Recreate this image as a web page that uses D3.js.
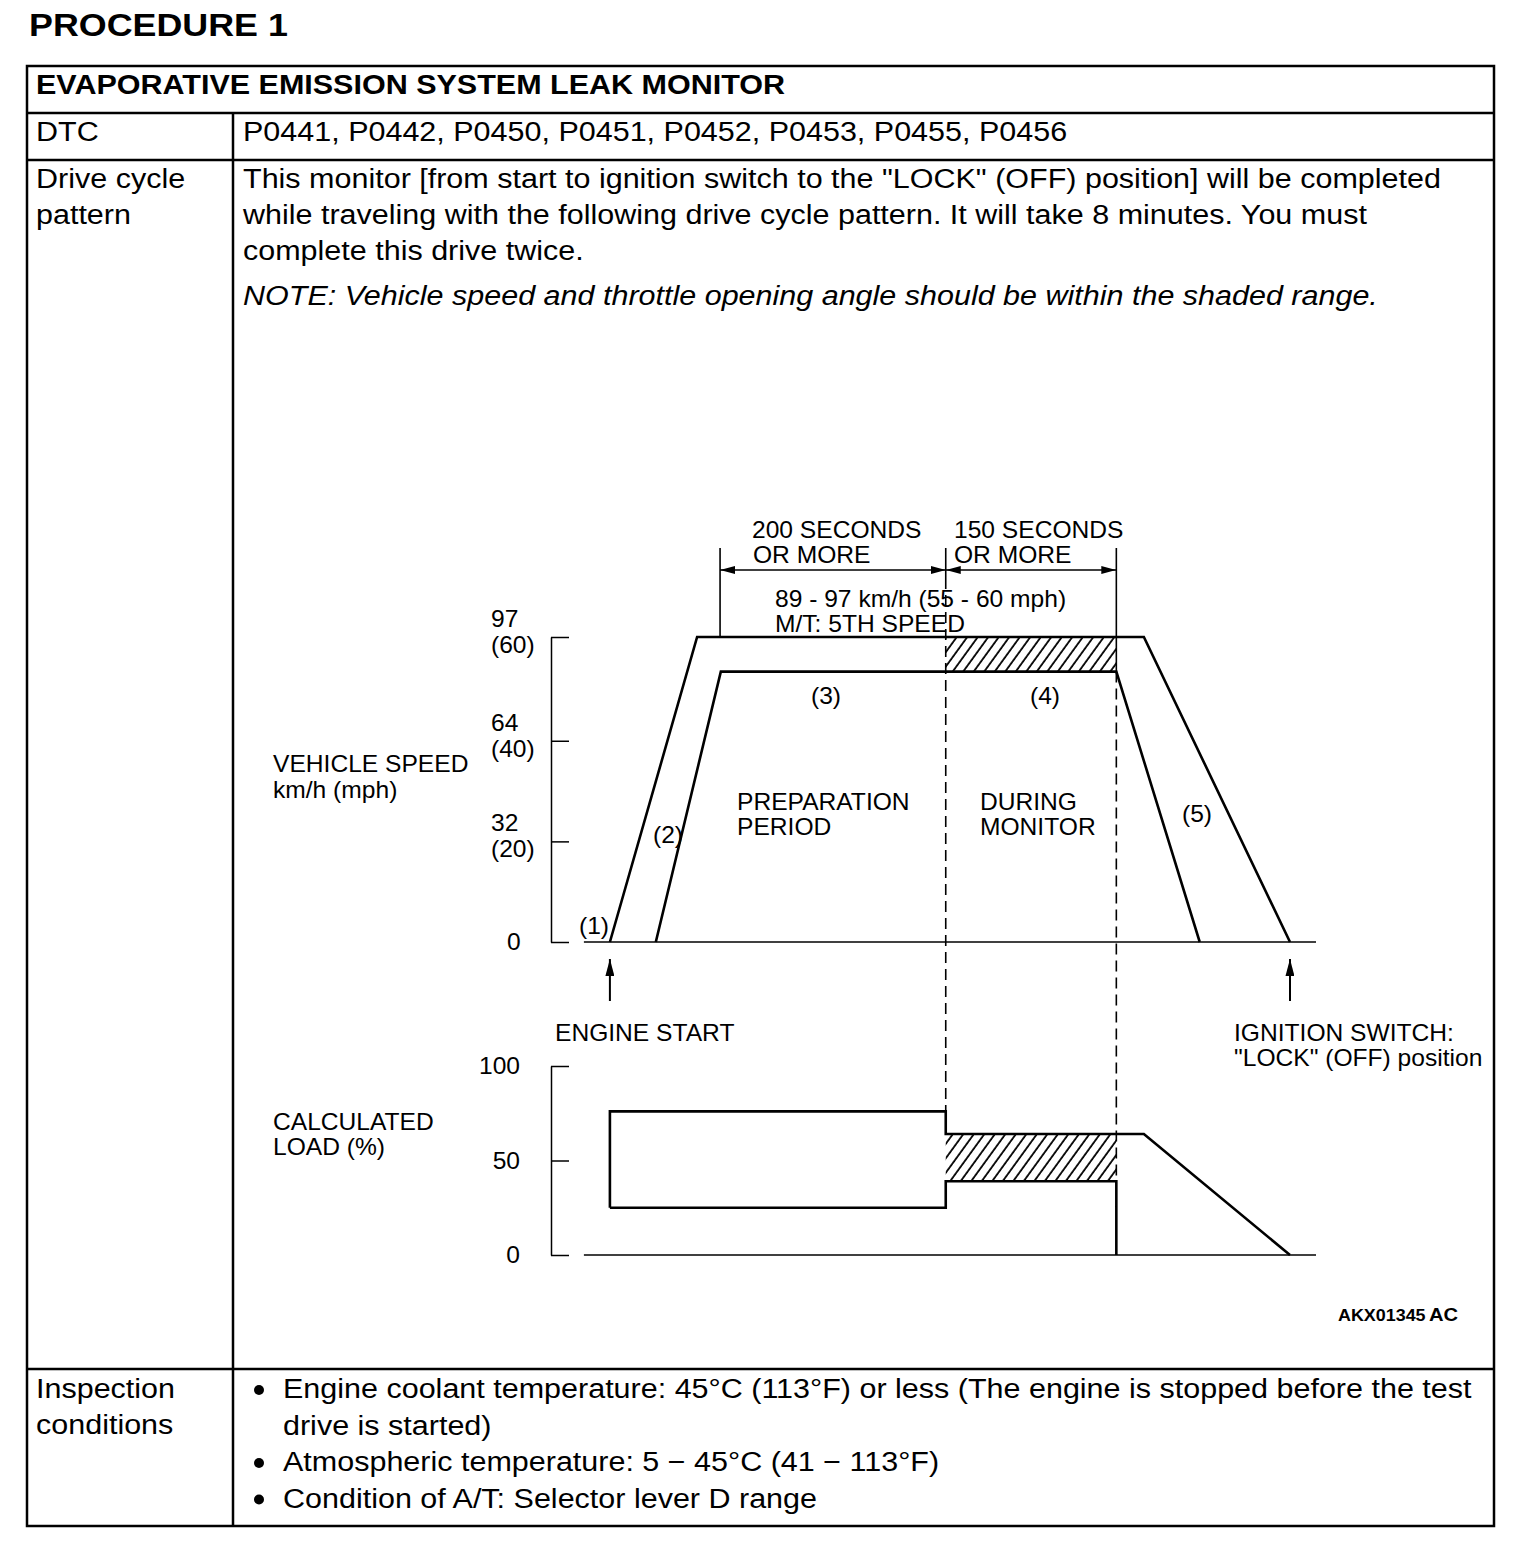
<!DOCTYPE html>
<html>
<head>
<meta charset="utf-8">
<script src="https://cdn.jsdelivr.net/npm/d3@7"></script>
<style>
  body { margin: 0; background: #fff; }
  svg { display: block; font-family: "Liberation Sans", Arial, sans-serif; }
</style>
</head>
<body>
<div id="chart"></div>
<script>
"use strict"
//------------------------------DATA------------------------------//
const pageTitle = "PROCEDURE 1";
const tableTitle = "EVAPORATIVE EMISSION SYSTEM LEAK MONITOR";
const dtcCodes = ["P0441", "P0442", "P0450", "P0451", "P0452", "P0453", "P0455", "P0456"];
const driveCycleLines = [
    "This monitor [from start to ignition switch to the \"LOCK\" (OFF) position] will be completed",
    "while traveling with the following drive cycle pattern. It will take 8 minutes. You must",
    "complete this drive twice."
];
const noteText = "NOTE: Vehicle speed and throttle opening angle should be within the shaded range.";
const inspectionConditions = [
    ["Engine coolant temperature: 45°C (113°F) or less (The engine is stopped before the test", "drive is started)"],
    ["Atmospheric temperature: 5 \u2212 45°C (41 \u2212 113°F)"],
    ["Condition of A/T: Selector lever D range"]
];

// y axis ticks
const speedTicksKmh = [0, 32, 64, 97];
const speedTicksMph = [null, 20, 40, 60];
const loadTicks = [0, 50, 100];

// time axis is schematic (not to scale), units 0..100
// speed band, [time, km/h]
const speedOuter = [[7.7, 0], [19.1, 97], [77.5, 97], [96.6, 0]];
const speedInner = [[13.7, 0], [22.2, 86], [73.9, 86], [84.8, 0]];
// calculated load band, [time, %]
const loadOuter = [[7.7, 25], [7.7, 76], [51.6, 76], [51.6, 64], [77.5, 64], [96.6, 0]];
const loadInner = [[7.7, 25], [51.6, 25], [51.6, 39], [73.9, 39], [73.9, 0]];
// shaded (monitor) ranges: [t0, t1, lo, hi]
const speedShade = [51.6, 73.9, 86, 97];
const loadShade = [51.6, 73.9, 39, 64];
// event times
const tEngineStart = 7.7;
const tPrepStart = 22.1;
const tMonitorStart = 51.6;
const tMonitorEnd = 73.9;
const tIgnitionOff = 96.6;
const tBaseStart = 4.3;
const tEnd = 100;

//--------------------------SETUP--------------------------------//
const W = 1520, H = 1544;
const svg = d3.select("#chart").append("svg")
    .attr("width", W)
    .attr("height", H);

const bodyFont = 27;
const chartFont = 23;
// the source lettering is wider than Liberation Sans, stretch it a bit
const bodyStretch = 1.13;
const chartStretch = 1.07;

const txt = (parent, x, y, str, sx) => parent.append("text")
    .attr("transform", `translate(${x},${y}) scale(${sx},1)`)
    .text(str);

//--------------------------TABLE--------------------------------//
txt(svg, 29, 36, pageTitle, 1.12)
    .style("font-weight", "bold").style("font-size", "32px");

const tbl = { left: 27, right: 1494, top: 66, col: 233, rows: [113, 160, 1369], bottom: 1526 };
const tableG = svg.append("g").attr("stroke", "#000").attr("stroke-width", 2.5).attr("fill", "none");
tableG.append("rect")
    .attr("x", tbl.left).attr("y", tbl.top)
    .attr("width", tbl.right - tbl.left).attr("height", tbl.bottom - tbl.top);
tbl.rows.forEach(y => {
    tableG.append("line").attr("x1", tbl.left).attr("x2", tbl.right).attr("y1", y).attr("y2", y);
});
tableG.append("line").attr("x1", tbl.col).attr("x2", tbl.col).attr("y1", tbl.rows[0]).attr("y2", tbl.bottom);

txt(svg, 36, 94, tableTitle, 1.09)
    .style("font-weight", "bold").style("font-size", "28px");

const bodyText = (x, y, str, italic) => txt(svg, x, y, str, bodyStretch)
    .style("font-size", bodyFont + "px")
    .style("font-style", italic ? "italic" : "normal");

bodyText(36, 141, "DTC");
bodyText(243, 141, dtcCodes.join(", "));

bodyText(36, 188, "Drive cycle");
bodyText(36, 224, "pattern");
driveCycleLines.forEach((l, i) => bodyText(243, 188 + i * 36, l));
bodyText(243, 305, noteText, true);

bodyText(36, 1398, "Inspection");
bodyText(36, 1434, "conditions");
let line = 0;
inspectionConditions.forEach(item => {
    svg.append("circle")
        .attr("cx", 259).attr("cy", 1390 + line * 36.5)
        .attr("r", 5).attr("fill", "#000");
    item.forEach(l => {
        bodyText(283, 1398 + line * 36.5, l);
        line++;
    });
});

//--------------------------SCALES-------------------------------//
const x = d3.scaleLinear().domain([0, 100]).range([551, 1316]);
const ySpeed = d3.scaleLinear().domain([0, 97]).range([942, 637]);
const yLoad = d3.scaleLinear().domain([0, 100]).range([1255, 1066]);

const defs = svg.append("defs");
defs.append("pattern")
    .attr("id", "hatch")
    .attr("patternUnits", "userSpaceOnUse")
    .attr("width", 8.5).attr("height", 8.5)
    .attr("patternTransform", "rotate(36)")
    .append("line")
    .attr("x1", 1).attr("x2", 1).attr("y1", 0).attr("y2", 8.5)
    .attr("stroke", "#000").attr("stroke-width", 1.8);

const arrowMarker = (id, w, h) => defs.append("marker")
    .attr("id", id)
    .attr("viewBox", `0 0 ${w} ${h}`)
    .attr("refX", w).attr("refY", h / 2)
    .attr("markerWidth", w).attr("markerHeight", h)
    .attr("markerUnits", "userSpaceOnUse")
    .attr("orient", "auto-start-reverse")
    .append("path").attr("d", `M0,0L${w},${h / 2}L0,${h}Z`).attr("fill", "#000");
arrowMarker("arr", 15, 8);
arrowMarker("arrUp", 17, 9);

//--------------------------AXES---------------------------------//
const chart = svg.append("g").style("font-size", chartFont + "px");

chart.append("g")
    .attr("transform", "translate(551,0)")
    .call(d3.axisRight(ySpeed).tickValues(speedTicksKmh).tickSize(18).tickSizeOuter(0).tickFormat(""))
    .call(g => g.selectAll("path, line").attr("stroke", "#000").attr("stroke-width", 1.5));

chart.append("g")
    .attr("transform", "translate(551,0)")
    .call(d3.axisRight(yLoad).tickValues(loadTicks).tickSize(18).tickSizeOuter(0).tickFormat(""))
    .call(g => g.selectAll("path, line").attr("stroke", "#000").attr("stroke-width", 1.5));

// baselines
[ySpeed(0), yLoad(0)].forEach(yy => {
    chart.append("line")
        .attr("x1", x(tBaseStart)).attr("x2", x(tEnd))
        .attr("y1", yy).attr("y2", yy)
        .attr("stroke", "#000").attr("stroke-width", 1.5);
});

const label = (xx, yy, str) => txt(chart, xx, yy, str, chartStretch);

// tick labels
speedTicksKmh.forEach((v, i) => {
    const yy = ySpeed(v);
    if (speedTicksMph[i] == null) {
        label(507, yy + 8, v);
    } else {
        label(491, yy - 10, v);
        label(491, yy + 16, "(" + speedTicksMph[i] + ")");
    }
});
loadTicks.forEach(v => {
    label(520, yLoad(v) + 8, v).attr("text-anchor", "end");
});

label(273, 772, "VEHICLE SPEED");
label(273, 798, "km/h (mph)");
label(273, 1130, "CALCULATED");
label(273, 1155, "LOAD (%)");

//--------------------------SHADING------------------------------//
chart.append("rect")
    .attr("x", x(speedShade[0])).attr("width", x(speedShade[1]) - x(speedShade[0]))
    .attr("y", ySpeed(speedShade[3])).attr("height", ySpeed(speedShade[2]) - ySpeed(speedShade[3]))
    .attr("fill", "url(#hatch)");
chart.append("rect")
    .attr("x", x(loadShade[0])).attr("width", x(loadShade[1]) - x(loadShade[0]))
    .attr("y", yLoad(loadShade[3])).attr("height", yLoad(loadShade[2]) - yLoad(loadShade[3]))
    .attr("fill", "url(#hatch)");

//--------------------------GUIDES-------------------------------//
const vline = (t, y1, y2, dashed) => chart.append("line")
    .attr("x1", x(t)).attr("x2", x(t)).attr("y1", y1).attr("y2", y2)
    .attr("stroke", "#000").attr("stroke-width", 1.6)
    .attr("stroke-dasharray", dashed ? "11,6" : null);

vline(tPrepStart, 548, ySpeed(97));
vline(tMonitorStart, 548, 578);
vline(tMonitorStart, 578, yLoad(76), true);
vline(tMonitorEnd, 548, ySpeed(86));
vline(tMonitorEnd, ySpeed(86), yLoad(39), true);

// dimension arrows
const dimY = 570;
[[tPrepStart, tMonitorStart], [tMonitorStart, tMonitorEnd]].forEach(([a, b]) => {
    chart.append("line")
        .attr("x1", x(a)).attr("x2", x(b)).attr("y1", dimY).attr("y2", dimY)
        .attr("stroke", "#000").attr("stroke-width", 1.6)
        .attr("marker-start", "url(#arr)").attr("marker-end", "url(#arr)");
});

//--------------------------LINES--------------------------------//
const speedLine = d3.line().x(d => x(d[0])).y(d => ySpeed(d[1]));
const loadLine = d3.line().x(d => x(d[0])).y(d => yLoad(d[1]));

[speedOuter, speedInner].forEach(d => chart.append("path")
    .attr("d", speedLine(d)).attr("fill", "none")
    .attr("stroke", "#000").attr("stroke-width", 2.6));
[loadOuter, loadInner].forEach(d => chart.append("path")
    .attr("d", loadLine(d)).attr("fill", "none")
    .attr("stroke", "#000").attr("stroke-width", 2.6));

// event arrows
[tEngineStart, tIgnitionOff].forEach(t => {
    chart.append("line")
        .attr("x1", x(t)).attr("x2", x(t)).attr("y1", 1001).attr("y2", 959)
        .attr("stroke", "#000").attr("stroke-width", 2)
        .attr("marker-end", "url(#arrUp)");
});

//--------------------------LABELS-------------------------------//
label(752, 538, "200 SECONDS");
label(753, 563, "OR MORE");
label(954, 538, "150 SECONDS");
label(954, 563, "OR MORE");
label(775, 607, "89 - 97 km/h (55 - 60 mph)");
label(775, 632, "M/T: 5TH SPEED");
label(579, 934, "(1)");
label(653, 843, "(2)");
label(811, 704, "(3)");
label(1030, 704, "(4)");
label(1182, 822, "(5)");
label(737, 810, "PREPARATION");
label(737, 835, "PERIOD");
label(980, 810, "DURING");
label(980, 835, "MONITOR");
label(555, 1041, "ENGINE START");
label(1234, 1041, "IGNITION SWITCH:");
label(1234, 1066, "\"LOCK\" (OFF) position");

const code = txt(chart, 1338, 1321, null, 1.12)
    .style("font-weight", "bold").style("font-size", "16px");
code.append("tspan").text("AKX01345");
code.append("tspan").attr("dx", 3).style("font-size", "18px").text("AC");
</script>
</body>
</html>
